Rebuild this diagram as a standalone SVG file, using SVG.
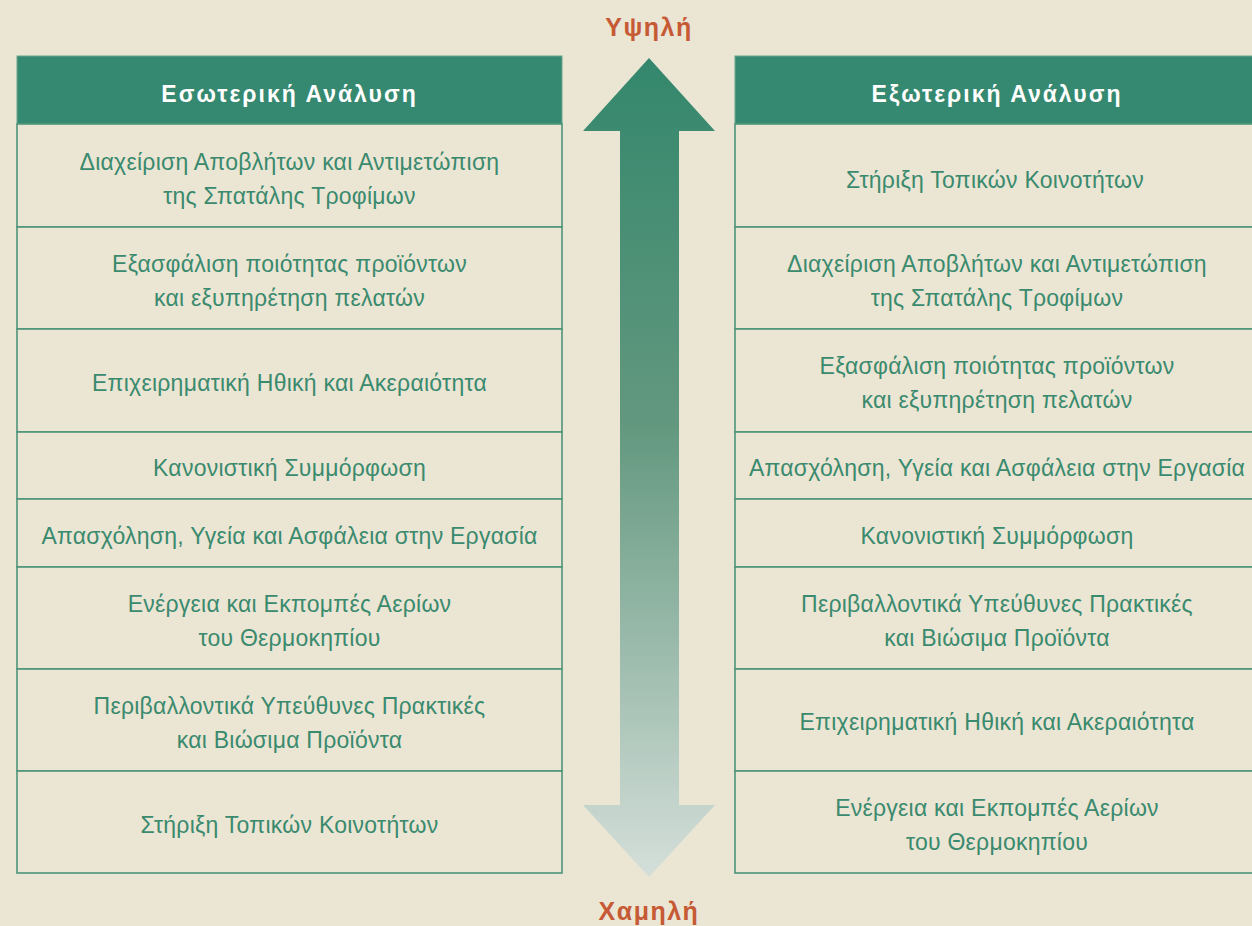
<svg xmlns="http://www.w3.org/2000/svg" width="1252" height="926" viewBox="0 0 1252 926">
<defs>
<linearGradient id="ag" x1="0" y1="58" x2="0" y2="877" gradientUnits="userSpaceOnUse">
<stop offset="0" stop-color="#33876c"/>
<stop offset="0.45" stop-color="#63987f"/>
<stop offset="1" stop-color="#d5dfda"/>
</linearGradient>
<style>
.cell{fill:#ebe5d4;stroke:#4e957a;stroke-width:1.6}
.hdr{fill:#358970;stroke:#6aa68c;stroke-width:1}
.ht{font-family:"Liberation Sans",Arial,sans-serif;font-size:23px;font-weight:bold;fill:#ffffff;text-anchor:middle;letter-spacing:2px}
.t{font-family:"Liberation Sans",Arial,sans-serif;font-size:23px;fill:#3a8a6e;text-anchor:middle;letter-spacing:0.25px}
.lv{font-family:"Liberation Sans",Arial,sans-serif;font-size:25px;font-weight:bold;fill:#c65a35;text-anchor:middle;letter-spacing:1.5px}
</style>
</defs>
<rect width="1252" height="926" fill="#ebe5d4"/>

<g id="level-high"><text class="lv" x="649" y="36">Υψηλή</text></g>
<g id="level-low"><text class="lv" x="649" y="920">Χαμηλή</text></g>

<g id="connectors">
<polygon points="649,58 715,131 679,131 679,805 715,805 649,877 583,805 620,805 620,131 583,131" fill="url(#ag)"/>
</g>

<g id="internal">
<g id="int-header"><rect class="hdr" x="17" y="56" width="545" height="68"/><text class="ht" x="289.5" y="102">Εσωτερική Ανάλυση</text></g>
<g id="int-1"><rect class="cell" x="17" y="124" width="545" height="103"/><text class="t" x="289.5" y="170">Διαχείριση Αποβλήτων και Αντιμετώπιση</text><text class="t" x="289.5" y="204">της Σπατάλης Τροφίμων</text></g>
<g id="int-2"><rect class="cell" x="17" y="227" width="545" height="102"/><text class="t" x="289.5" y="272">Εξασφάλιση ποιότητας προϊόντων</text><text class="t" x="289.5" y="306">και εξυπηρέτηση πελατών</text></g>
<g id="int-3"><rect class="cell" x="17" y="329" width="545" height="103"/><text class="t" x="289.5" y="391">Επιχειρηματική Ηθική και Ακεραιότητα</text></g>
<g id="int-4"><rect class="cell" x="17" y="432" width="545" height="67"/><text class="t" x="289.5" y="476">Κανονιστική Συμμόρφωση</text></g>
<g id="int-5"><rect class="cell" x="17" y="499" width="545" height="68"/><text class="t" x="289.5" y="544">Απασχόληση, Υγεία και Ασφάλεια στην Εργασία</text></g>
<g id="int-6"><rect class="cell" x="17" y="567" width="545" height="102"/><text class="t" x="289.5" y="612">Ενέργεια και Εκπομπές Αερίων</text><text class="t" x="289.5" y="646">του Θερμοκηπίου</text></g>
<g id="int-7"><rect class="cell" x="17" y="669" width="545" height="102"/><text class="t" x="289.5" y="714">Περιβαλλοντικά Υπεύθυνες Πρακτικές</text><text class="t" x="289.5" y="748">και Βιώσιμα Προϊόντα</text></g>
<g id="int-8"><rect class="cell" x="17" y="771" width="545" height="102"/><text class="t" x="289.5" y="833">Στήριξη Τοπικών Κοινοτήτων</text></g>
</g>

<g id="external">
<g id="ext-header"><rect class="hdr" x="735" y="56" width="530" height="68"/><text class="ht" x="997" y="102">Εξωτερική Ανάλυση</text></g>
<g id="ext-1"><rect class="cell" x="735" y="124" width="530" height="103"/><text class="t" x="995" y="188">Στήριξη Τοπικών Κοινοτήτων</text></g>
<g id="ext-2"><rect class="cell" x="735" y="227" width="530" height="102"/><text class="t" x="997" y="272">Διαχείριση Αποβλήτων και Αντιμετώπιση</text><text class="t" x="997" y="306">της Σπατάλης Τροφίμων</text></g>
<g id="ext-3"><rect class="cell" x="735" y="329" width="530" height="103"/><text class="t" x="997" y="374">Εξασφάλιση ποιότητας προϊόντων</text><text class="t" x="997" y="408">και εξυπηρέτηση πελατών</text></g>
<g id="ext-4"><rect class="cell" x="735" y="432" width="530" height="67"/><text class="t" x="997" y="476">Απασχόληση, Υγεία και Ασφάλεια στην Εργασία</text></g>
<g id="ext-5"><rect class="cell" x="735" y="499" width="530" height="68"/><text class="t" x="997" y="544">Κανονιστική Συμμόρφωση</text></g>
<g id="ext-6"><rect class="cell" x="735" y="567" width="530" height="102"/><text class="t" x="997" y="612">Περιβαλλοντικά Υπεύθυνες Πρακτικές</text><text class="t" x="997" y="646">και Βιώσιμα Προϊόντα</text></g>
<g id="ext-7"><rect class="cell" x="735" y="669" width="530" height="102"/><text class="t" x="997" y="730">Επιχειρηματική Ηθική και Ακεραιότητα</text></g>
<g id="ext-8"><rect class="cell" x="735" y="771" width="530" height="102"/><text class="t" x="997" y="816">Ενέργεια και Εκπομπές Αερίων</text><text class="t" x="997" y="850">του Θερμοκηπίου</text></g>
</g>
</svg>
